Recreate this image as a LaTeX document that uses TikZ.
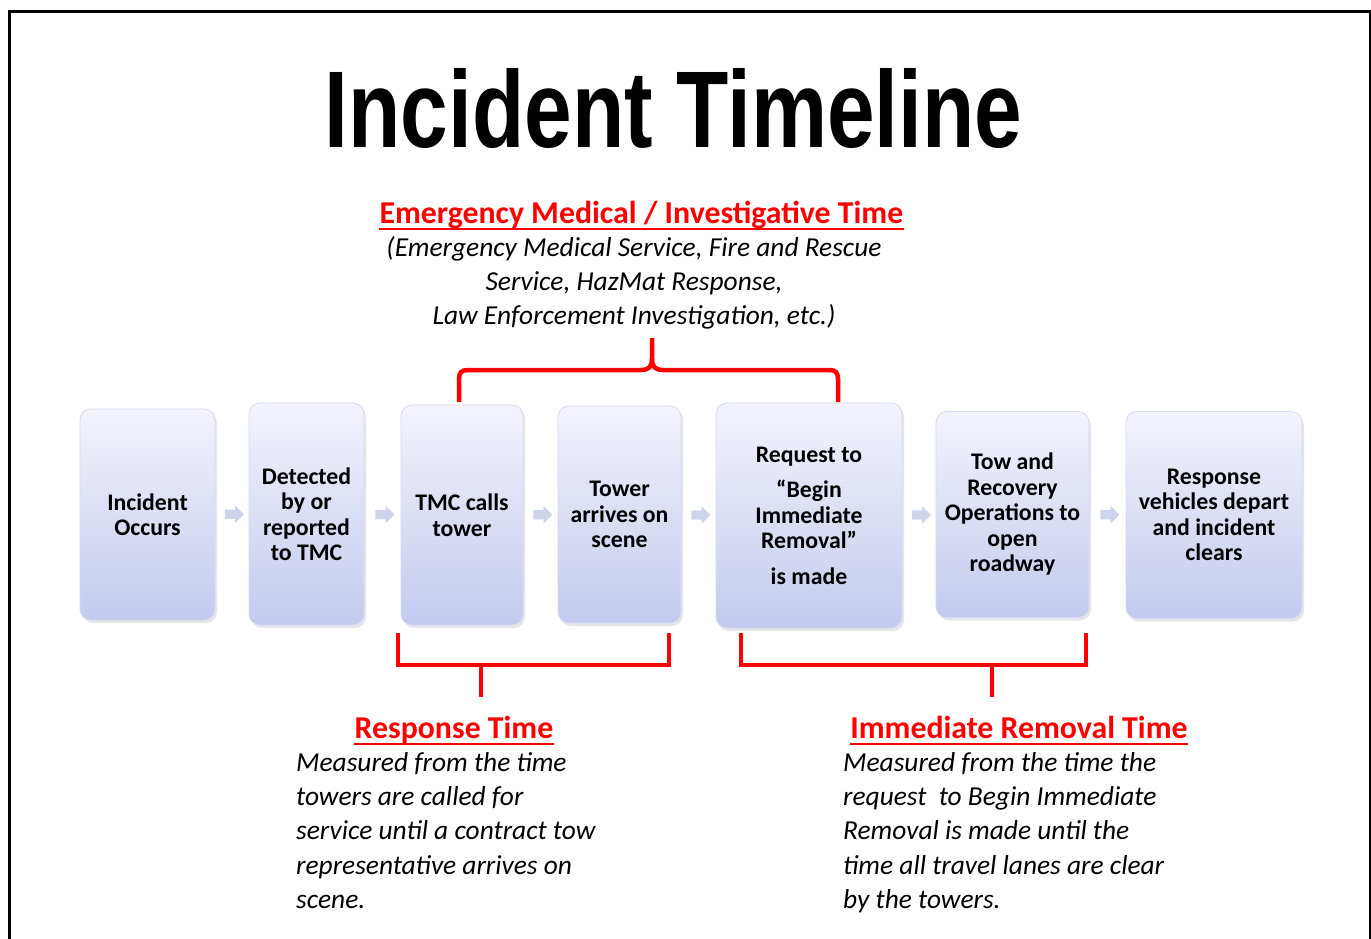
\documentclass[tikz,border=0pt]{standalone}
\usepackage{fontspec}
\setmainfont{Carlito}
\newfontfamily\titlefont{Liberation Sans}
\usetikzlibrary{shapes.arrows,shadows,calc}
\definecolor{boxtop}{RGB}{243,244,252}
\definecolor{boxbot}{RGB}{196,202,238}
\definecolor{boxedge}{RGB}{214,218,242}
\definecolor{arrowcol}{RGB}{206,212,236}
\definecolor{brkred}{RGB}{255,0,0}
\begin{document}
\begin{tikzpicture}[x=1pt,y=-1pt,
  tbox/.style={rounded corners=11pt, top color=boxtop, bottom color=boxbot,
    draw=boxedge, line width=0.8pt, align=center, inner sep=0pt,
    font=\fontsize{23.8}{25.5}\selectfont\bfseries,
    drop shadow={shadow xshift=2pt, shadow yshift=-3pt, opacity=0.18, fill=boxbot!60!black}},
  arr/.style={single arrow, fill=arrowcol, draw=none, inner xsep=0pt, inner ysep=4.5pt,
    minimum height=19pt, single arrow head extend=4pt},
  brk/.style={draw=brkred, line width=4.5pt},
  head/.style={text=brkred, inner sep=0pt, font=\fontsize{31.8}{36}\selectfont\bfseries},
  ul/.style={draw=brkred, line width=2pt},
  body/.style={inner sep=0pt, font=\fontsize{27.4}{34.3}\selectfont\itshape}
]
\useasboundingbox (0,0) rectangle (1371,939);
\fill[white] (0,0) rectangle (1371,939);
% frame
\draw[line width=2.8pt] (9.5,950) -- (9.5,11.2) -- (1370,11.2) -- (1370,950);

% title
\node[anchor=base, inner sep=0pt] (title) at (673.5,147)
  {\resizebox{697pt}{79pt}{\titlefont\bfseries Incident Timeline}};

% boxes
\node[tbox, minimum width=135pt, minimum height=211pt] (b1) at (147.5,514.5) {Incident\\Occurs};
\node[tbox, minimum width=115pt, minimum height=222pt] (b2) at (306.5,514) {Detected\\by or\\reported\\to TMC};
\node[tbox, minimum width=122pt, minimum height=220pt] (b3) at (462,515) {TMC calls\\tower};
\node[tbox, minimum width=123pt, minimum height=217pt] (b4) at (619.5,514.5) {Tower\\arrives on\\scene};
\node[tbox, minimum width=186pt, minimum height=225pt] (b5) at (809,515.5) {Request to\\[10pt]``Begin\\Immediate\\Removal''\\[10pt]is made};
\node[tbox, minimum width=153pt, minimum height=206pt] (b6) at (1012.5,514.5) {Tow and\\Recovery\\Operations to\\open\\roadway};
\node[tbox, minimum width=176pt, minimum height=207pt] (b7) at (1214,515) {Response\\vehicles depart\\and incident\\clears};

% arrows between boxes
\node[arr] (a1) at ($(b1.east)!0.5!(b2.west)$) {};
\node[arr] (a2) at ($(b2.east)!0.5!(b3.west)$) {};
\node[arr] (a3) at ($(b3.east)!0.5!(b4.west)$) {};
\node[arr] (a4) at ($(b4.east)!0.5!(b5.west)$) {};
\node[arr] (a5) at ($(b5.east)!0.5!(b6.west)$) {};
\node[arr] (a6) at ($(b6.east)!0.5!(b7.west)$) {};

% top bracket
\draw[brk] (459,402) -- (459,379) .. controls (459,372.5) and (461.5,370) .. (468,370) -- (641,370)
  .. controls (648.5,370) and (652,367) .. (652,359) -- (652,338);
\draw[brk] (838,402) -- (838,379) .. controls (838,372.5) and (835.5,370) .. (829,370) -- (663,370)
  .. controls (655.5,370) and (652,367) .. (652,359);

% bottom brackets
\draw[brk] (398,633) -- (398,665) -- (669,665) -- (669,633);
\draw[brk] (481,665) -- (481,697);
\draw[brk] (741,633) -- (741,665) -- (1086,665) -- (1086,633);
\draw[brk] (992,665) -- (992,697);

% top heading and text
\node[head, anchor=base] (h1) at (641.5,223) {Emergency Medical / Investigative Time};
\draw[ul] ([yshift=-6pt]h1.base west) -- ([yshift=-6pt]h1.base east);
\node[body, anchor=north, align=center] (t1) at (634,236)
  {(Emergency Medical Service, Fire and Rescue\\Service, HazMat Response,\\Law Enforcement Investigation, etc.)};

% response time
\node[head, anchor=base] (h2) at (454,738) {Response Time};
\draw[ul] ([yshift=-6pt]h2.base west) -- ([yshift=-6pt]h2.base east);
\node[body, anchor=north west, align=left] (t2) at (296,752)
  {Measured from the time\\towers are called for\\service until a contract tow\\representative arrives on\\scene.};

% immediate removal time
\node[head, anchor=base] (h3) at (1019,738) {Immediate Removal Time};
\draw[ul] ([yshift=-6pt]h3.base west) -- ([yshift=-6pt]h3.base east);
\node[body, anchor=north west, align=left] (t3) at (843,752)
  {Measured from the time the\\request\ \ to Begin Immediate\\Removal is made until the\\time all travel lanes are clear\\by the towers.};
\end{tikzpicture}
\end{document}
